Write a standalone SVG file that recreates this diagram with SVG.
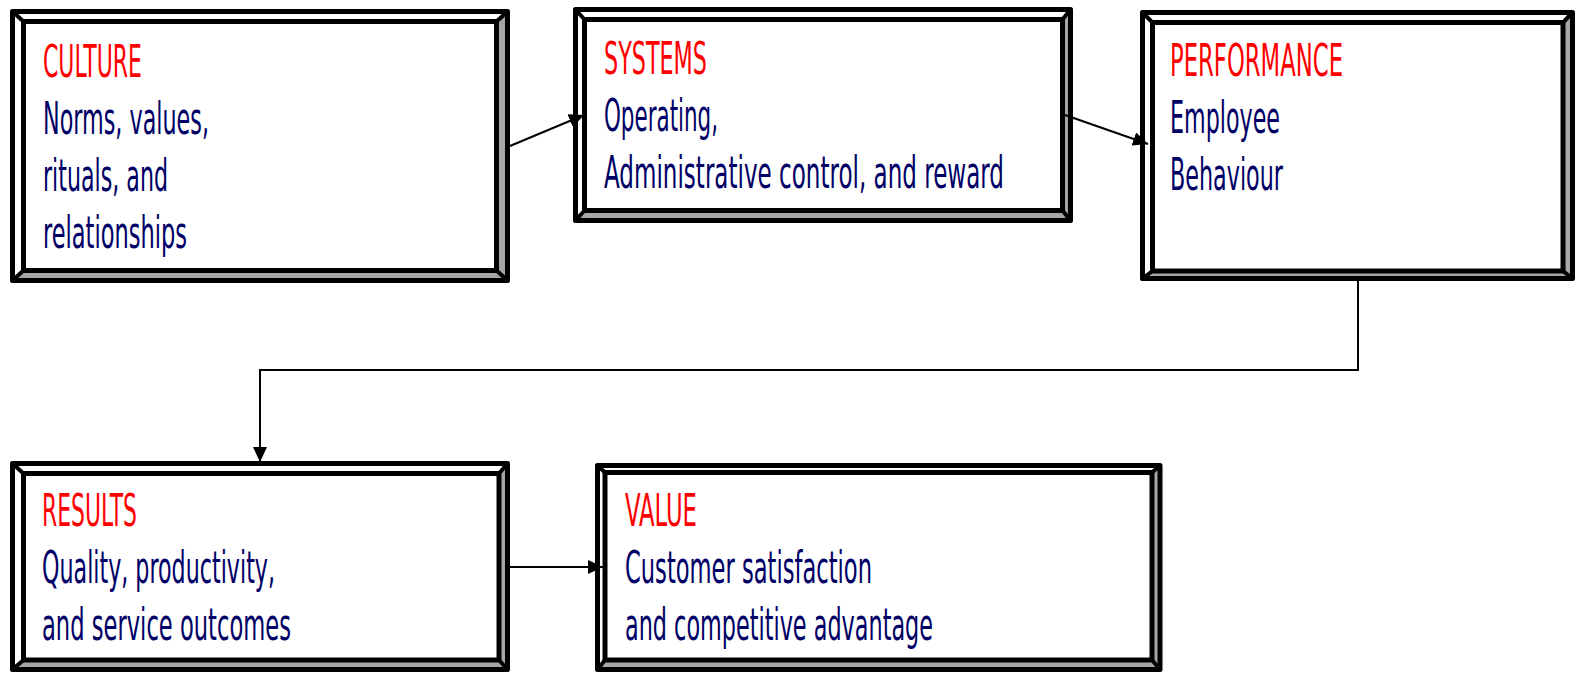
<svg xmlns="http://www.w3.org/2000/svg" width="1581" height="673" viewBox="0 0 1581 673">
<defs>
<style>
.bg{fill:#ffffff}
.outer{fill:none;stroke:#000;stroke-width:5;stroke-linejoin:round}
.inner{fill:#ffffff;stroke:#000;stroke-width:5;stroke-linejoin:miter}
.bevel{fill:#a6a6a6;stroke:none}
.diag{stroke:#000;stroke-width:4;stroke-linecap:round}
.title{font-family:"Liberation Sans Narrow","DejaVu Sans Condensed","Liberation Sans",sans-serif;font-size:44px;fill:#ff0000}
.body{font-family:"Liberation Sans Narrow","DejaVu Sans Condensed","Liberation Sans",sans-serif;font-size:44px;fill:#000066}
.conn{fill:none;stroke:#000;stroke-width:2}
</style>
<marker id="arr" markerUnits="userSpaceOnUse" markerWidth="16" markerHeight="14" refX="15" refY="7" orient="auto">
<path d="M0,0 L15,7 L0,14 Z" fill="#000"/>
</marker>
</defs>
<rect class="bg" x="0" y="0" width="1581" height="673"/>

<g id="culture">
<polygon class="bevel" points="507.5,11.5 507.5,280.5 12.5,280.5 23.5,270.5 496.5,270.5 496.5,21.5"/>
<rect class="outer" x="12.5" y="11.5" width="495" height="269"/>
<line class="diag" x1="12.5" y1="11.5" x2="23.5" y2="21.5"/>
<line class="diag" x1="507.5" y1="11.5" x2="496.5" y2="21.5"/>
<line class="diag" x1="12.5" y1="280.5" x2="23.5" y2="270.5"/>
<line class="diag" x1="507.5" y1="280.5" x2="496.5" y2="270.5"/>
<rect class="inner" x="23.5" y="21.5" width="473" height="249"/>
<text class="title" x="43" y="77" textLength="99" lengthAdjust="spacingAndGlyphs">CULTURE</text>
<text class="body" x="43" y="134" textLength="166" lengthAdjust="spacingAndGlyphs">Norms, values,</text>
<text class="body" x="43" y="191" textLength="125" lengthAdjust="spacingAndGlyphs">rituals, and</text>
<text class="body" x="43" y="248" textLength="144" lengthAdjust="spacingAndGlyphs">relationships</text>
</g>

<g id="systems">
<polygon class="bevel" points="1070.5,9.5 1070.5,220.5 575.5,220.5 584.5,210.5 1062.5,210.5 1062.5,19.5"/>
<rect class="outer" x="575.5" y="9.5" width="495" height="211"/>
<line class="diag" x1="575.5" y1="9.5" x2="584.5" y2="19.5"/>
<line class="diag" x1="1070.5" y1="9.5" x2="1062.5" y2="19.5"/>
<line class="diag" x1="575.5" y1="220.5" x2="584.5" y2="210.5"/>
<line class="diag" x1="1070.5" y1="220.5" x2="1062.5" y2="210.5"/>
<rect class="inner" x="584.5" y="19.5" width="478" height="191"/>
<text class="title" x="604" y="74" textLength="103" lengthAdjust="spacingAndGlyphs">SYSTEMS</text>
<text class="body" x="604" y="131" textLength="114" lengthAdjust="spacingAndGlyphs">Operating,</text>
<text class="body" x="604" y="188" textLength="400" lengthAdjust="spacingAndGlyphs">Administrative control, and reward</text>
</g>

<g id="performance">
<polygon class="bevel" points="1572.5,12.5 1572.5,278.5 1142.5,278.5 1152.5,271 1563,271 1563,22.5"/>
<rect class="outer" x="1142.5" y="12.5" width="430" height="266"/>
<line class="diag" x1="1142.5" y1="12.5" x2="1152.5" y2="22.5"/>
<line class="diag" x1="1572.5" y1="12.5" x2="1563" y2="22.5"/>
<line class="diag" x1="1142.5" y1="278.5" x2="1152.5" y2="271"/>
<line class="diag" x1="1572.5" y1="278.5" x2="1563" y2="271"/>
<rect class="inner" x="1152.5" y="22.5" width="410.5" height="248.5"/>
<text class="title" x="1170" y="76" textLength="173" lengthAdjust="spacingAndGlyphs">PERFORMANCE</text>
<text class="body" x="1170" y="133" textLength="110" lengthAdjust="spacingAndGlyphs">Employee</text>
<text class="body" x="1170" y="190" textLength="113" lengthAdjust="spacingAndGlyphs">Behaviour</text>
</g>

<g id="results">
<polygon class="bevel" points="507.5,463.5 507.5,669.5 12.5,669.5 23.5,660 499,660 499,473.5"/>
<rect class="outer" x="12.5" y="463.5" width="495" height="206"/>
<line class="diag" x1="12.5" y1="463.5" x2="23.5" y2="473.5"/>
<line class="diag" x1="507.5" y1="463.5" x2="499" y2="473.5"/>
<line class="diag" x1="12.5" y1="669.5" x2="23.5" y2="660"/>
<line class="diag" x1="507.5" y1="669.5" x2="499" y2="660"/>
<rect class="inner" x="23.5" y="473.5" width="475.5" height="186.5"/>
<text class="title" x="42" y="526" textLength="95" lengthAdjust="spacingAndGlyphs">RESULTS</text>
<text class="body" x="42" y="583" textLength="233" lengthAdjust="spacingAndGlyphs">Quality, productivity,</text>
<text class="body" x="42" y="640" textLength="249" lengthAdjust="spacingAndGlyphs">and service outcomes</text>
</g>

<g id="value">
<polygon class="bevel" points="1160,465.5 1160,669.5 597.5,669.5 605,660 1152,660 1152,472.5"/>
<rect class="outer" x="597.5" y="465.5" width="562.5" height="204"/>
<line class="diag" x1="597.5" y1="465.5" x2="605" y2="472.5"/>
<line class="diag" x1="1160" y1="465.5" x2="1152" y2="472.5"/>
<line class="diag" x1="597.5" y1="669.5" x2="605" y2="660"/>
<line class="diag" x1="1160" y1="669.5" x2="1152" y2="660"/>
<rect class="inner" x="605" y="472.5" width="547" height="187.5"/>
<text class="title" x="625" y="526" textLength="72" lengthAdjust="spacingAndGlyphs">VALUE</text>
<text class="body" x="625" y="583" textLength="247" lengthAdjust="spacingAndGlyphs">Customer satisfaction</text>
<text class="body" x="625" y="640" textLength="308" lengthAdjust="spacingAndGlyphs">and competitive advantage</text>
</g>

<g id="connectors">
<line class="conn" x1="510" y1="146" x2="584" y2="115" marker-end="url(#arr)"/>
<line class="conn" x1="1065" y1="115" x2="1148" y2="144" marker-end="url(#arr)"/>
<polyline class="conn" points="1358,281 1358,370 260,370 260,462" marker-end="url(#arr)"/>
<line class="conn" x1="510" y1="567" x2="603" y2="567" marker-end="url(#arr)"/>
</g>
</svg>
